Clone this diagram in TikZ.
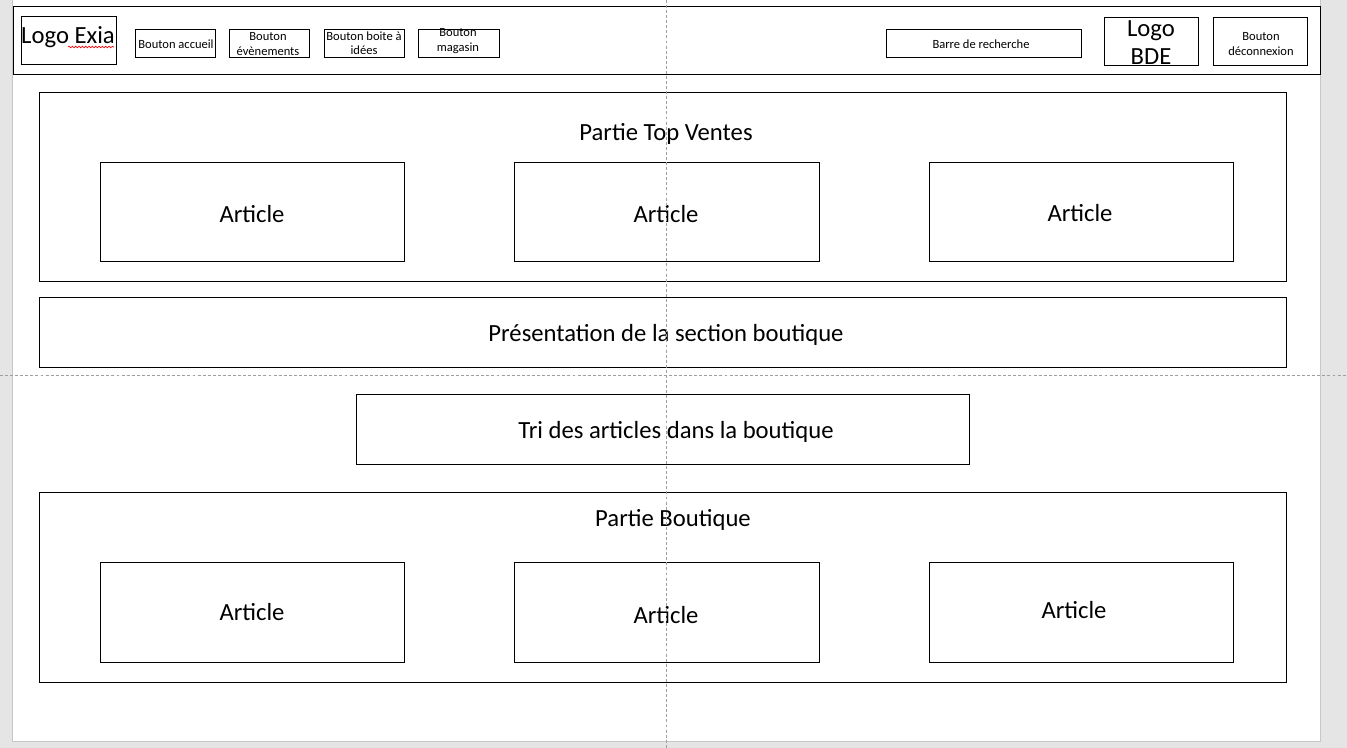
\documentclass[tikz,border=0pt]{standalone}
\usepackage{fontspec}
\setmainfont{Carlito}
\usetikzlibrary{fit,decorations.pathmorphing}
\tikzset{
  box/.style={draw=black, line width=0.75pt, inner sep=0pt, fill=white},
  big/.style={font=\fontsize{18.5}{21}\selectfont, inner sep=0pt, align=center, yshift=-1.5pt},
  art/.style={font=\fontsize{18.5}{21}\selectfont, inner sep=0pt, align=center},
  small/.style={font=\fontsize{9.4}{11}\selectfont, inner sep=0pt, align=center, yshift=-0.6pt},
  guide/.style={draw=black!38, line width=0.6pt, dash pattern=on 2.2pt off 1.6pt},
}
\newcommand\rbox[5]{\node[box, fit={(#2,#3)(#4,#5)}] (#1) {};}
\begin{document}
\begin{tikzpicture}[x=0.75pt, y=-0.75pt]
\useasboundingbox (0,0) rectangle (1347,748);
\fill[black!10] (0,0) rectangle (1347,748);
\draw[fill=white, draw=black!22, line width=0.75pt] (12,-2) rectangle (1320,741);
% header
\rbox{header}{13}{7}{1320}{75}
\rbox{logoexia}{21}{17}{116}{65}
\rbox{accueil}{135}{30}{215}{58}
\rbox{evenements}{229}{30}{309}{58}
\rbox{idees}{324}{30}{404}{58}
\rbox{magasin}{418}{30}{499}{58}
\rbox{recherche}{886}{30}{1081}{58}
\rbox{logobde}{1104}{18}{1198}{66}
\rbox{deconnexion}{1213}{18}{1307}{66}
\node[big] (tlogoexia) at (68,35) {Logo Exia};
\draw[red, line width=0.5pt, decorate, decoration={snake, amplitude=0.6pt, segment length=2.5pt}] (68,47) -- (114,47);
\node[small] (taccueil) at (176,43) {Bouton accueil};
\node[small] (tevenements) at (268,43.5) {Bouton\\évènements};
\node[small] (tidees) at (364,42.5) {Bouton boite à\\idées};
\node[small] (tmagasin) at (458,40.5) {Bouton\\magasin};
\node[small] (trecherche) at (981,43) {Barre de recherche};
\node[art] (tlogobde) at (1151,42.5) {Logo\\BDE};
\node[small] (tdeconnexion) at (1261,43.5) {Bouton\\déconnexion};
% top ventes
\rbox{topventes}{39}{93}{1286}{282}
\node[big] (ttopventes) at (666,132) {Partie Top Ventes};
\rbox{art1}{100}{163}{404}{262}
\rbox{art2}{514}{163}{819}{262}
\rbox{art3}{929}{163}{1233}{262}
\node[art] (tart1) at (252,214) {Article};
\node[art] (tart2) at (666,214) {Article};
\node[art] (tart3) at (1080,213) {Article};
% presentation
\rbox{presentation}{39}{298}{1286}{368}
\node[big] (tpresentation) at (666,333) {Présentation de la section boutique};
% tri
\rbox{tri}{356}{395}{969}{465}
\node[big] (ttri) at (676,430) {Tri des articles dans la boutique};
% boutique
\rbox{boutique}{39}{493}{1286}{682}
\node[big] (tboutique) at (673,518) {Partie Boutique};
\rbox{art4}{100}{563}{404}{662}
\rbox{art5}{514}{563}{819}{662}
\rbox{art6}{929}{563}{1233}{662}
\node[art] (tart4) at (252,612) {Article};
\node[art] (tart5) at (666,615) {Article};
\node[art] (tart6) at (1074,610) {Article};
% guides
\coordinate (vtop) at (666,0);
\coordinate (vbot) at (666,748);
\coordinate (hl) at (0,375);
\coordinate (hr) at (1347,375);
\draw[guide] (vtop) -- (vbot);
\draw[guide] (hl) -- (hr);
\end{tikzpicture}
\end{document}
